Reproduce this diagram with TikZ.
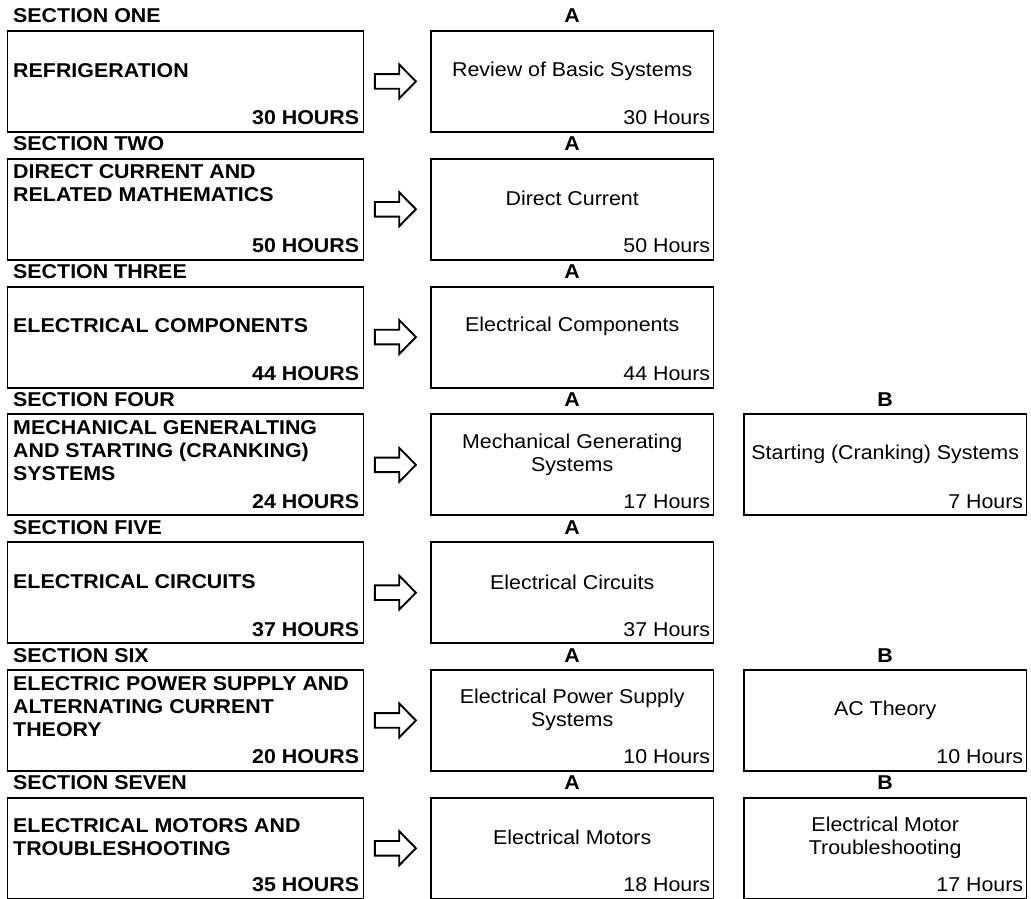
\documentclass[tikz,border=0pt]{standalone}
\usepackage{fontspec}
\setmainfont{Liberation Sans}[FakeStretch=1.07]
\usetikzlibrary{calc}
\tikzset{
  box/.style={draw, line width=1.9pt, minimum height=101pt, inner sep=0pt, anchor=north west},
  leftbox/.style={box, minimum width=356pt},
  subbox/.style={box, minimum width=282.5pt},
  heading/.style={font=\fontsize{20}{23}\selectfont\bfseries, inner sep=0pt},
  titletext/.style={font=\fontsize{20}{23}\selectfont\bfseries, inner sep=0pt, align=left, anchor=west},
  hourstext/.style={font=\fontsize{20}{23}\selectfont\bfseries, inner sep=0pt, anchor=base east},
  subtext/.style={font=\fontsize{20}{23}\selectfont, inner sep=0pt, align=center},
  subhours/.style={font=\fontsize{20}{23}\selectfont, inner sep=0pt, anchor=base east},
  blockarrow/.style={draw, line width=1.9pt, line join=miter, fill=white}
}
\newcommand\secrow[7]{%
  \pgfmathsetmacro\yy{30+127.8*(#1-1)}
  \node[leftbox] (L#1) at (6.5,\yy) {};
  \node[heading, anchor=base west] (S#1) at (13,\yy-7) {#2};
  \node[titletext] (T#1) at (13,\yy+#7) {#3};
  \node[hourstext] (H#1) at ($(L#1.south east)+(-5,-8)$) {#4};
  \node[subbox] (M#1) at (430,\yy) {};
  \node[heading, anchor=base] (A#1) at ($(M#1.north)+(0,-7)$) {A};
  \node[subtext] (MT#1) at ($(M#1.north)+(0,41)$) {#5};
  \node[subhours] (MH#1) at ($(M#1.south east)+(-4,-8)$) {#6};
  \coordinate (C#1) at ($(L#1.east)+(31,0)$);
  \draw[blockarrow, shift={(C#1)}] (-20.5,-7.3) -- (3.8,-7.3) -- (3.8,-17) -- (20.5,0)
     -- (3.8,17) -- (3.8,7.3) -- (-20.5,7.3) -- cycle;
}
\newcommand\secrowb[3]{%
  \node[subbox] (R#1) at (743,{30+127.8*(#1-1)}) {};
  \node[heading, anchor=base] (B#1) at ($(R#1.north)+(0,-7)$) {B};
  \node[subtext] (RT#1) at ($(R#1.north)+(0,41)$) {#2};
  \node[subhours] (RH#1) at ($(R#1.south east)+(-4,-8)$) {#3};
}
\begin{document}
\begin{tikzpicture}[x=1pt, y=-1pt]
\useasboundingbox (0,0) rectangle (1031,899);
\secrow{1}{SECTION ONE}{REFRIGERATION}{30 HOURS}{Review of Basic Systems}{30 Hours}{40.5}
\secrow{2}{SECTION TWO}{DIRECT CURRENT AND\\RELATED MATHEMATICS}{50 HOURS}{Direct Current}{50 Hours}{25.5}
\secrow{3}{SECTION THREE}{ELECTRICAL COMPONENTS}{44 HOURS}{Electrical Components}{44 Hours}{40.5}
\secrow{4}{SECTION FOUR}{MECHANICAL GENERALTING\\AND STARTING (CRANKING)\\SYSTEMS}{24 HOURS}{Mechanical Generating\\Systems}{17 Hours}{37.5}
\secrowb{4}{Starting (Cranking) Systems}{7 Hours}
\secrow{5}{SECTION FIVE}{ELECTRICAL CIRCUITS}{37 HOURS}{Electrical Circuits}{37 Hours}{40.5}
\secrow{6}{SECTION SIX}{ELECTRIC POWER SUPPLY AND\\ALTERNATING CURRENT\\THEORY}{20 HOURS}{Electrical Power Supply\\Systems}{10 Hours}{37.5}
\secrowb{6}{AC Theory}{10 Hours}
\secrow{7}{SECTION SEVEN}{ELECTRICAL MOTORS AND\\TROUBLESHOOTING}{35 HOURS}{Electrical Motors}{18 Hours}{40}
\secrowb{7}{Electrical Motor\\Troubleshooting}{17 Hours}
\end{tikzpicture}
\end{document}
